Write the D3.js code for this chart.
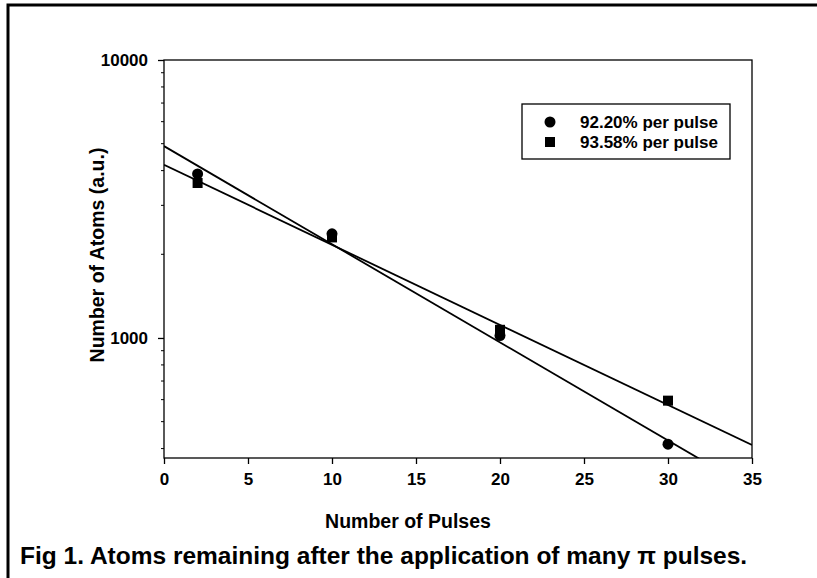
<!DOCTYPE html>
<html><head><meta charset="utf-8">
<script src="https://cdn.jsdelivr.net/npm/d3@7"></script>
<style>body{margin:0;background:#fff}svg{display:block}text{font-family:"Liberation Sans",Arial,sans-serif;fill:#000;font-weight:bold}</style>
</head><body>
<script>
const pulses = [2, 10, 20, 30];
const circleSeries = [3890, 2370, 1020, 415];
const squareSeries = [3610, 2300, 1070, 595];
const fitCircle = [[0, 4900], [35, 285]];
const fitSquare = [[0, 4200], [35, 412]];
const legendLabels = ["92.20% per pulse", "93.58% per pulse"];
const xTicks = [0, 5, 10, 15, 20, 25, 30, 35];
const yTicks = [1000, 10000];
const yMinor = [400, 500, 600, 700, 800, 900, 2000, 3000, 4000, 5000, 6000, 7000, 8000, 9000];

const W = 817, H = 578;
const svg = d3.select("body").append("svg").attr("width", W).attr("height", H);
const L = 164, R = 752, T = 60, B = 458;
const x = d3.scaleLinear().domain([0, 35]).range([L, R]);
const y = d3.scaleLog().domain([370, 10000]).range([B, T]);

// outer border
svg.append("rect").attr("x", 8).attr("y", 5).attr("width", 830).attr("height", 600)
  .attr("fill", "none").attr("stroke", "#000").attr("stroke-width", 3);

// frame
svg.append("rect").attr("x", L).attr("y", T).attr("width", R - L).attr("height", B - T)
  .attr("fill", "none").attr("stroke", "#000").attr("stroke-width", 1.3);

const xAxis = svg.append("g").attr("transform", `translate(0,${B})`)
  .call(d3.axisBottom(x).tickValues(xTicks).tickSize(6).tickPadding(9).tickFormat(d3.format("d")));
xAxis.select(".domain").remove();
xAxis.selectAll("text").style("font-size", "17px");
xAxis.selectAll("line").attr("stroke-width", 1.3);

const yAxis = svg.append("g").attr("transform", `translate(${L},0)`)
  .call(d3.axisLeft(y).tickValues(yTicks).tickSize(6).tickPadding(10).tickFormat(d3.format("d")));
yAxis.select(".domain").remove();
yAxis.selectAll("text").style("font-size", "17px");
yAxis.selectAll("line").attr("stroke-width", 1.3);

svg.append("g").selectAll("line").data(yMinor).join("line")
  .attr("x1", L - 3).attr("x2", L).attr("y1", d => y(d)).attr("y2", d => y(d))
  .attr("stroke", "#000").attr("stroke-width", 1);

// clip
svg.append("clipPath").attr("id", "clip").append("rect")
  .attr("x", L).attr("y", T).attr("width", R - L).attr("height", B - T);

const line = d3.line().x(d => x(d[0])).y(d => y(d[1]));
const g = svg.append("g").attr("clip-path", "url(#clip)");
[fitCircle, fitSquare].forEach(f => {
  g.append("path").attr("d", line(f)).attr("fill", "none").attr("stroke", "#000").attr("stroke-width", 1.8);
});

// markers
svg.append("g").selectAll("rect").data(pulses).join("rect")
  .attr("x", (d) => x(d) - 5).attr("y", (d, i) => y(squareSeries[i]) - 5)
  .attr("width", 10).attr("height", 10).attr("fill", "#000");
svg.append("g").selectAll("circle").data(pulses).join("circle")
  .attr("cx", d => x(d)).attr("cy", (d, i) => y(circleSeries[i])).attr("r", 5.5).attr("fill", "#000");

// legend
svg.append("rect").attr("x", 522).attr("y", 104).attr("width", 208).attr("height", 55)
  .attr("fill", "#fff").attr("stroke", "#000").attr("stroke-width", 1.3);
svg.append("circle").attr("cx", 550).attr("cy", 122).attr("r", 5.5).attr("fill", "#000");
svg.append("rect").attr("x", 545).attr("y", 137).attr("width", 10).attr("height", 10).attr("fill", "#000");
legendLabels.forEach((t, i) => {
  svg.append("text").attr("x", 580).attr("y", 128 + i * 20).style("font-size", "17px").text(t);
});

// axis titles
svg.append("text").attr("x", 408).attr("y", 528).attr("text-anchor", "middle")
  .style("font-size", "19.5px").text("Number of Pulses");
svg.append("text").attr("transform", `translate(104,${(T + B) / 2 - 4}) rotate(-90)`)
  .attr("text-anchor", "middle").style("font-size", "19.5px").text("Number of Atoms (a.u.)");

// caption
svg.append("text").attr("x", 20).attr("y", 564).style("font-size", "24.5px")
  .text("Fig 1. Atoms remaining after the application of many \u03c0 pulses.");
</script>
</body></html>
